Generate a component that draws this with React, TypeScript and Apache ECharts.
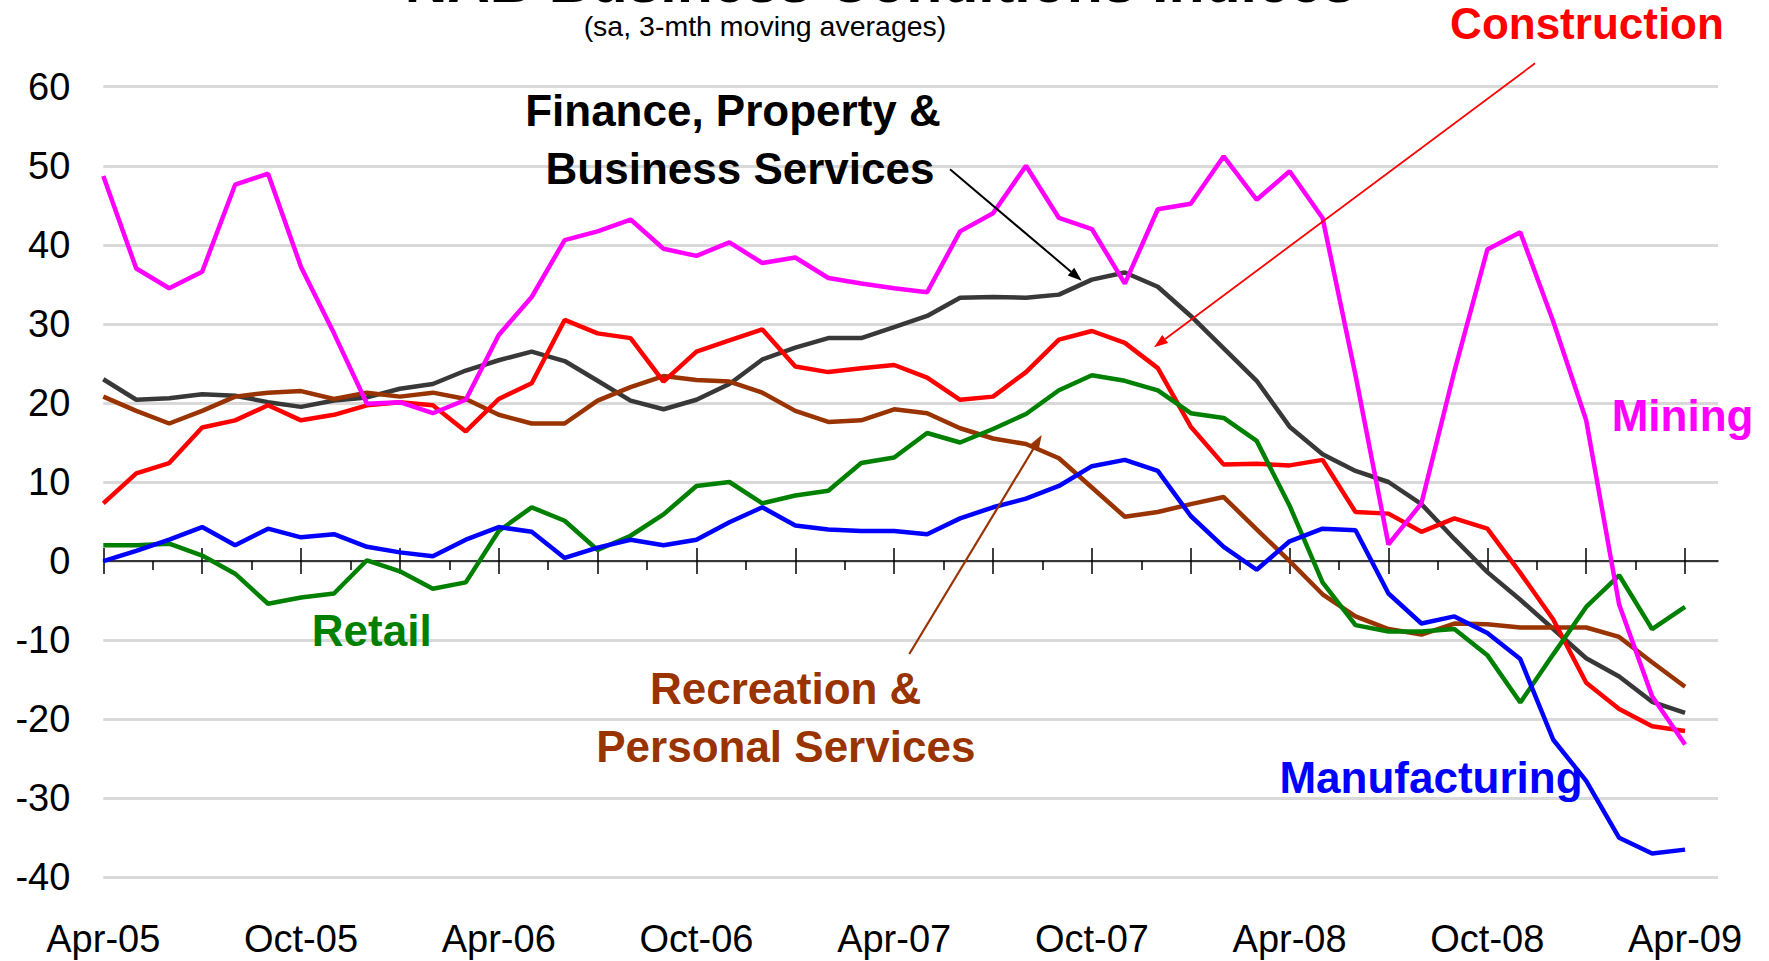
import React, { useEffect, useRef } from "react";
import * as echarts from "echarts";

const FONT = '"Liberation Sans", Arial, Helvetica, sans-serif';

const months = [
  "Apr-05","May-05","Jun-05","Jul-05","Aug-05","Sep-05","Oct-05","Nov-05","Dec-05","Jan-06","Feb-06","Mar-06",
  "Apr-06","May-06","Jun-06","Jul-06","Aug-06","Sep-06","Oct-06","Nov-06","Dec-06","Jan-07","Feb-07","Mar-07",
  "Apr-07","May-07","Jun-07","Jul-07","Aug-07","Sep-07","Oct-07","Nov-07","Dec-07","Jan-08","Feb-08","Mar-08",
  "Apr-08","May-08","Jun-08","Jul-08","Aug-08","Sep-08","Oct-08","Nov-08","Dec-08","Jan-09","Feb-09","Mar-09",
  "Apr-09",
];

const mining = [
  48.7, 37.0, 34.5, 36.6, 47.6, 49.0, 37.2, 28.8, 19.9, 20.1, 18.7, 20.4,
  28.6, 33.4, 40.6, 41.7, 43.2, 39.5, 38.6, 40.3, 37.7, 38.4, 35.8, 35.1,
  34.5, 34.0, 41.7, 44.0, 50.0, 43.4, 42.0, 35.1, 44.5, 45.2, 51.2, 45.7,
  49.3, 43.4, 23.5, 2.1, 7.3, 24.0, 39.4, 41.6, 30.3, 17.8, -5.5, -17.1,
  -23.2,
];

const finance = [
  23.0, 20.4, 20.6, 21.1, 20.9, 20.1, 19.5, 20.3, 20.7, 21.8, 22.4, 24.1,
  25.4, 26.5, 25.3, 22.8, 20.3, 19.2, 20.4, 22.4, 25.5, 27.0, 28.2, 28.2,
  29.6, 31.0, 33.3, 33.4, 33.3, 33.7, 35.6, 36.5, 34.7, 31.0, 26.9, 22.8,
  17.0, 13.5, 11.4, 10.0, 7.2, 2.8, -1.4, -4.9, -8.6, -12.3, -14.6, -17.8,
  -19.2,
];

const construction = [
  7.3, 11.1, 12.4, 16.9, 17.8, 19.7, 17.8, 18.5, 19.7, 20.1, 19.7, 16.4,
  20.5, 22.5, 30.5, 28.8, 28.2, 22.7, 26.5, 27.9, 29.3, 24.6, 23.9, 24.4,
  24.8, 23.2, 20.4, 20.8, 23.9, 28.0, 29.1, 27.6, 24.4, 17.0, 12.2, 12.3,
  12.1, 12.8, 6.2, 6.0, 3.7, 5.4, 4.1, -1.5, -7.4, -15.4, -18.7, -20.9,
  -21.5,
];

const recreation = [
  20.8, 19.0, 17.4, 19.0, 20.8, 21.3, 21.5, 20.5, 21.3, 20.8, 21.3, 20.5,
  18.5, 17.4, 17.4, 20.3, 22.0, 23.4, 22.9, 22.7, 21.3, 19.0, 17.6, 17.8,
  19.2, 18.7, 16.8, 15.5, 14.8, 13.0, 9.3, 5.6, 6.2, 7.2, 8.1, 4.0,
  0.0, -4.2, -7.0, -8.6, -9.3, -7.9, -8.0, -8.4, -8.4, -8.4, -9.6, -12.8,
  -15.9,
];

const retail = [
  2.0, 2.0, 2.2, 0.7, -1.6, -5.4, -4.6, -4.1, 0.1, -1.3, -3.5, -2.7,
  3.8, 6.8, 5.1, 1.4, 3.2, 5.9, 9.5, 10.0, 7.3, 8.3, 8.9, 12.4,
  13.1, 16.2, 15.0, 16.7, 18.6, 21.6, 23.5, 22.8, 21.6, 18.7, 18.1, 15.2,
  7.0, -2.7, -8.1, -8.9, -8.9, -8.6, -11.9, -17.9, -11.8, -5.8, -1.8, -8.6,
  -5.8,
];

const manufacturing = [
  0.0, 1.3, 2.7, 4.3, 2.0, 4.1, 3.0, 3.4, 1.8, 1.1, 0.6, 2.7,
  4.3, 3.7, 0.4, 1.7, 2.7, 2.0, 2.7, 4.9, 6.8, 4.5, 4.0, 3.8,
  3.8, 3.4, 5.4, 6.8, 7.9, 9.5, 12.0, 12.8, 11.4, 5.7, 1.8, -1.1,
  2.5, 4.1, 3.9, -4.1, -7.9, -7.0, -9.1, -12.4, -22.6, -27.8, -35.0, -37.0,
  -36.5,
];

const xTickLabels = ["Apr-05", "Oct-05", "Apr-06", "Oct-06", "Apr-07", "Oct-07", "Apr-08", "Oct-08", "Apr-09"];

const seriesDefs = [
  { name: "Finance, Property & Business Services", data: finance, color: "#383838" },
  { name: "Recreation & Personal Services", data: recreation, color: "#993300" },
  { name: "Construction", data: construction, color: "#ff0000" },
  { name: "Retail", data: retail, color: "#008000" },
  { name: "Manufacturing", data: manufacturing, color: "#0000ff" },
  { name: "Mining", data: mining, color: "#ff00ff" },
];

// axis values derived from the month list
const monthIdx = months.map((_, i) => i);
const majorTicks = monthIdx.filter((i) => i % 3 === 0);
const minorTicks = majorTicks.slice(0, -1).map((i) => i + 1.5);
const labelTicks = xTickLabels.map((l) => months.indexOf(l));

function txt(text: string, x: number, y: number, color: string, size: number, weight = "bold") {
  return {
    type: "text",
    silent: true,
    z: 100,
    style: {
      text,
      x,
      y,
      fill: color,
      font: `${weight} ${size}px ${FONT}`,
      fontSize: size,
      fontWeight: weight,
      fontFamily: FONT,
      textAlign: "center",
      textVerticalAlign: "middle",
      align: "center",
      verticalAlign: "middle",
    },
  };
}

function arrow(x1: number, y1: number, x2: number, y2: number, color: string, w: number, hl: number, hw: number) {
  const dx = x2 - x1;
  const dy = y2 - y1;
  const L = Math.hypot(dx, dy);
  const ux = dx / L;
  const uy = dy / L;
  const bx = x2 - ux * hl;
  const by = y2 - uy * hl;
  const px = (-uy * hw) / 2;
  const py = (ux * hw) / 2;
  return [
    { type: "line", silent: true, z: 100, shape: { x1, y1, x2: bx, y2: by }, style: { stroke: color, lineWidth: w } },
    {
      type: "polygon",
      silent: true,
      z: 100,
      shape: { points: [[x2, y2], [bx + px, by + py], [bx - px, by - py]] },
      style: { fill: color },
    },
  ];
}

export default function App() {
  const ref = useRef<HTMLDivElement>(null);

  useEffect(() => {
    if (!ref.current) return;
    const chart = echarts.init(ref.current, null, { renderer: "svg" });

    const tickAxisBase = {
      type: "value",
      min: 0,
      max: months.length,
      position: "bottom",
      axisLabel: { show: false },
      splitLine: { show: false },
    };

    const option = {
      animation: false,
      backgroundColor: "#ffffff",
      textStyle: { fontFamily: FONT },
      grid: { left: 103.3, right: 51, top: 86.7, bottom: 83.7, containLabel: false },
      xAxis: [
        {
          ...tickAxisBase,
          axisLine: { show: true, onZero: true, onZeroAxisIndex: 0, lineStyle: { color: "#000", width: 1.5 } },
          axisTick: { show: true, inside: false, length: 13, customValues: majorTicks, lineStyle: { color: "#000", width: 1.5 } },
        },
        {
          ...tickAxisBase,
          axisLine: { show: true, onZero: true, onZeroAxisIndex: 0, lineStyle: { color: "#000", width: 1.5, opacity: 0 } },
          axisTick: { show: true, inside: true, length: 13, customValues: majorTicks, lineStyle: { color: "#000", width: 1.5 } },
        },
        {
          ...tickAxisBase,
          axisLine: { show: true, onZero: true, onZeroAxisIndex: 0, lineStyle: { color: "#000", width: 1.5, opacity: 0 } },
          axisTick: { show: true, inside: false, length: 9, customValues: minorTicks, lineStyle: { color: "#000", width: 1.5 } },
        },
        {
          ...tickAxisBase,
          axisLine: { show: false, onZero: false },
          axisTick: { show: false },
          axisLabel: {
            show: true,
            customValues: labelTicks,
            formatter: (v: number) => months[v] ?? "",
            fontSize: 38,
            color: "#000",
            margin: 43,
            fontFamily: FONT,
          },
        },
      ],
      yAxis: {
        type: "value",
        min: -40,
        max: 60,
        interval: 10,
        axisLine: { show: false },
        axisTick: { show: false },
        axisLabel: { fontSize: 38, color: "#000", margin: 33, fontFamily: FONT },
        splitLine: { show: true, lineStyle: { color: "#d9d9d9", width: 3 } },
      },
      series: seriesDefs.map((s, k) => ({
        type: "line",
        name: s.name,
        xAxisIndex: 0,
        yAxisIndex: 0,
        data: s.data.map((v, i) => [monthIdx[i], v]),
        symbol: "none",
        z: 2 + k,
        lineStyle: { color: s.color, width: 4.5 },
        itemStyle: { color: s.color },
      })),
      graphic: [
        txt("NAB Business Conditions Indices", 880, -18, "#000", 59, "bold"),
        txt("(sa, 3-mth moving averages)", 765, 26, "#000", 28.5, "normal"),
        txt("Construction", 1587, 23.5, "#ff0000", 44),
        txt("Finance, Property &", 733, 110.8, "#000", 44),
        txt("Business Services", 740, 168.3, "#000", 44),
        txt("Recreation &", 785.7, 688.3, "#993300", 44),
        txt("Personal Services", 785.8, 746.2, "#993300", 44),
        txt("Retail", 371.7, 630.5, "#008000", 44),
        txt("Mining", 1682.6, 415.3, "#ff00ff", 44),
        txt("Manufacturing", 1431, 777.2, "#0000ff", 44),
        ...arrow(950, 169.3, 1081.7, 280.7, "#000", 2, 14, 10),
        ...arrow(1535, 63.3, 1154, 347.3, "#ff0000", 1.8, 14, 10),
        ...arrow(909.3, 654, 1041.7, 435, "#993300", 2.2, 14, 10),
      ],
    };

    chart.setOption(option as any);
    return () => chart.dispose();
  }, []);

  return (
    <div
      ref={ref}
      style={{ position: "fixed", left: 0, top: 0, width: "1769px", height: "961px", background: "#fff" }}
    />
  );
}
